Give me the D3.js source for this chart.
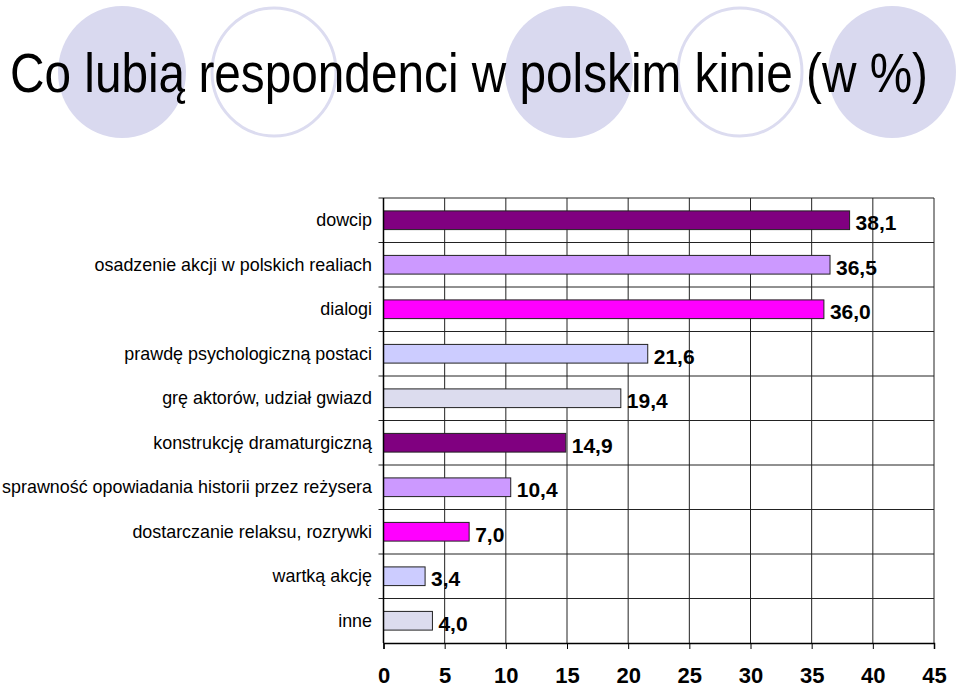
<!DOCTYPE html>
<meta charset="utf-8">
<script src="https://d3js.org/d3.v7.min.js"></script>
<style>
  body { margin: 0; background: #fff; }
  svg text { font-family: "Liberation Sans", Arial, sans-serif; }
</style>
<div id="my_chart"><svg></svg></div>
<script>
// data
var categories = ["dowcip", "osadzenie akcji w polskich realiach", "dialogi",
    "prawdę psychologiczną postaci", "grę aktorów, udział gwiazd",
    "konstrukcję dramaturgiczną", "sprawność opowiadania historii przez reżysera",
    "dostarczanie relaksu, rozrywki", "wartką akcję", "inne"];
var values = [38.1, 36.5, 36.0, 21.6, 19.4, 14.9, 10.4, 7.0, 3.4, 4.0];
var xTicks = [0, 5, 10, 15, 20, 25, 30, 35, 40, 45];
var barColors = ["#800080", "#cc99ff", "#ff00ff", "#ccccff", "#dcdcee"];
var title = "Co lubią respondenci w polskim kinie (w %)";

var W = 960, H = 685;
var svg = d3.select("#my_chart").select("svg")
    .attr("width", W)
    .attr("height", H);

// decorative circles behind the title
var deco = [
    {cx: 122, fill: true}, {cx: 274, fill: false}, {cx: 569, fill: true},
    {cx: 740, fill: false}, {cx: 892, fill: true}
];
svg.append("g").selectAll("ellipse")
    .data(deco)
    .join("ellipse")
    .attr("cx", function(d) { return d.cx; })
    .attr("cy", 72)
    .attr("rx", function(d) { return d.fill ? 64 : 62; })
    .attr("ry", function(d) { return d.fill ? 66 : 64; })
    .attr("fill", function(d) { return d.fill ? "#d9d9ef" : "none"; })
    .attr("stroke", function(d) { return d.fill ? "none" : "#dcdcf0"; })
    .attr("stroke-width", 3);

svg.append("text")
    .attr("x", 10)
    .attr("y", 92)
    .attr("textLength", 918)
    .attr("lengthAdjust", "spacingAndGlyphs")
    .style("font-size", "56px")
    .attr("fill", "#000")
    .text(title);

// plot area
var plotL = 383.5, plotR = 934, plotT = 198, plotB = 643;

var x = d3.scaleLinear()
    .domain([0, 45])
    .range([plotL, plotR]);

var y = d3.scaleBand()
    .domain(categories)
    .range([plotT, plotB])
    .paddingInner(0.58)
    .paddingOuter(0.29);

var step = (plotB - plotT) / categories.length;

var g = svg.append("g");

// vertical grid lines
g.append("g").selectAll("line")
    .data(xTicks.slice(1))
    .join("line")
    .attr("x1", function(d) { return x(d); })
    .attr("x2", function(d) { return x(d); })
    .attr("y1", plotT)
    .attr("y2", plotB)
    .attr("stroke", "#222")
    .attr("stroke-width", 1);

// horizontal grid lines at category boundaries
var bounds = d3.range(categories.length);
g.append("g").selectAll("line")
    .data(bounds)
    .join("line")
    .attr("x1", plotL - 5)
    .attr("x2", plotR)
    .attr("y1", function(i) { return plotT + i * step; })
    .attr("y2", function(i) { return plotT + i * step; })
    .attr("stroke", "#222")
    .attr("stroke-width", 1);

// bars
g.append("g").selectAll("rect")
    .data(values)
    .join("rect")
    .attr("x", x(0))
    .attr("y", function(d, i) { return y(categories[i]); })
    .attr("width", function(d) { return x(d) - x(0); })
    .attr("height", y.bandwidth())
    .attr("fill", function(d, i) { return barColors[i % barColors.length]; })
    .attr("stroke", "#222")
    .attr("stroke-width", 1);

// value labels
g.append("g").selectAll("text")
    .data(values)
    .join("text")
    .attr("x", function(d) { return x(d) + 6; })
    .attr("y", function(d, i) { return y(categories[i]) + y.bandwidth() / 2 + 10; })
    .style("font-size", "21px")
    .style("font-weight", "bold")
    .attr("fill", "#000")
    .text(function(d) { return d.toFixed(1).replace(".", ","); });

// category labels
g.append("g").selectAll("text")
    .data(categories)
    .join("text")
    .attr("x", 372)
    .attr("y", function(d) { return y(d) + y.bandwidth() / 2 + 6; })
    .attr("text-anchor", "end")
    .style("font-size", "17.9px")
    .attr("fill", "#000")
    .text(function(d) { return d; });

// left axis line
g.append("line")
    .attr("x1", plotL).attr("x2", plotL)
    .attr("y1", plotT).attr("y2", plotB)
    .attr("stroke", "#000").attr("stroke-width", 1.5);

// bottom axis
var xAxis = g.append("g")
    .attr("transform", "translate(0," + plotB + ")")
    .call(d3.axisBottom(x).tickValues(xTicks).tickSize(6).tickPadding(18));
xAxis.select(".domain").attr("stroke", "#000").attr("stroke-width", 1.5);
xAxis.selectAll(".tick line").attr("stroke", "#000");
xAxis.selectAll(".tick text")
    .style("font-family", "'Liberation Sans', Arial, sans-serif")
    .style("font-size", "22px")
    .style("font-weight", "bold")
    .attr("fill", "#000");
</script>
